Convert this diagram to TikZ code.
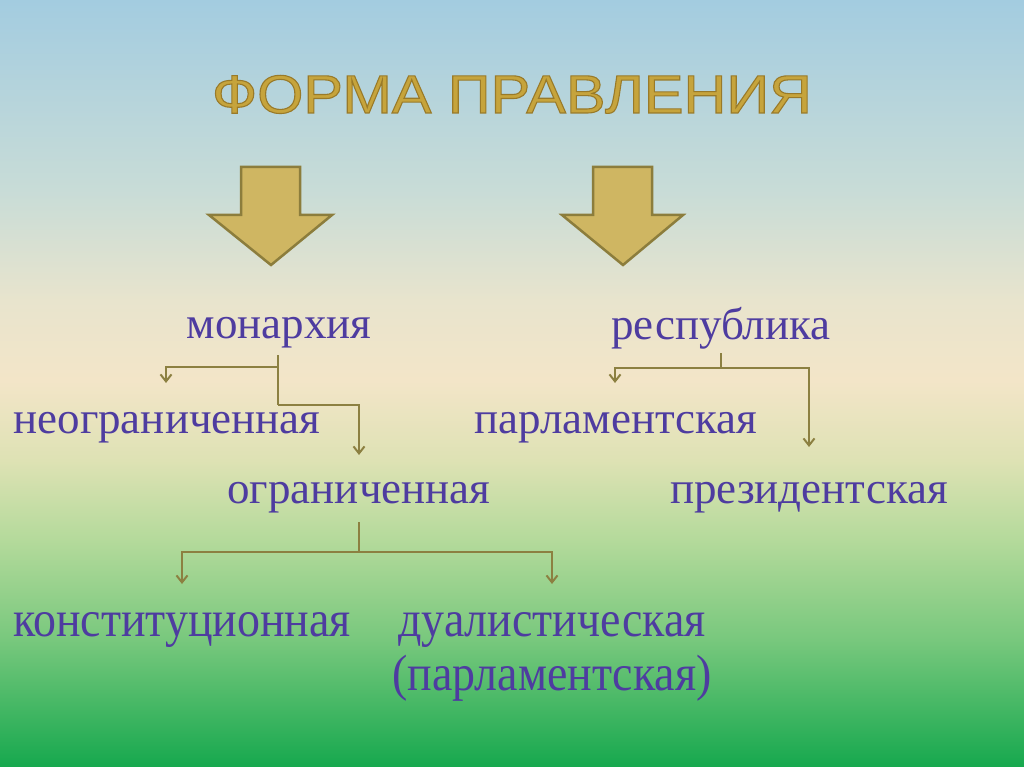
\documentclass[tikz,border=0pt]{standalone}
\usepackage{fontspec}
\setmainfont{Liberation Serif}
\newfontfamily\titlefont[FakeStretch=1.1]{Liberation Sans}
\newfontfamily\condfont[FakeStretch=0.9]{Liberation Serif}
\usetikzlibrary{arrows.meta}
\definecolor{bgA}{RGB}{163,204,224}
\definecolor{bgB}{RGB}{200,220,215}
\definecolor{bgC}{RGB}{232,228,205}
\definecolor{bgD}{RGB}{243,229,200}
\definecolor{bgE}{RGB}{222,226,180}
\definecolor{bgF}{RGB}{180,218,155}
\definecolor{bgG}{RGB}{120,200,125}
\definecolor{bgH}{RGB}{22,168,78}
\definecolor{txt}{RGB}{78,60,160}
\definecolor{gold}{RGB}{198,164,60}
\definecolor{arrfill}{RGB}{207,182,98}
\definecolor{arrline}{RGB}{140,125,60}
\definecolor{conncol}{RGB}{140,128,65}
\pgfdeclareverticalshading{bgshade}{100bp}{%
 color(0bp)=(bgH); color(25bp)=(bgH); color(33.3bp)=(bgG); color(39.8bp)=(bgF);
 color(45bp)=(bgE); color(50.2bp)=(bgD); color(55.4bp)=(bgC); color(62.6bp)=(bgB);
 color(75bp)=(bgA); color(100bp)=(bgA)}
\newcommand{\strokedtext}[1]{\special{pdf:literal direct 0.6 0.48 0.16 RG 1.1 w 2 Tr}#1\special{pdf:literal direct 0 Tr}}
\tikzset{
 label/.style={text=txt, font=\fontsize{45}{50}\selectfont, anchor=base, inner sep=0pt},
 condlabel/.style={text=txt, font=\condfont\fontsize{51}{56}\selectfont, anchor=base, inner sep=0pt},
 conn/.style={draw=conncol, line width=2pt, -{Straight Barb[length=7pt,width=11pt]}},
 connplain/.style={draw=conncol, line width=2pt},
 blockarrow/.style={fill=arrfill, draw=arrline, line width=2.5pt, line join=miter},
 titlestyle/.style={font=\titlefont\fontsize{54}{58}\selectfont, anchor=base, inner sep=0pt, text=gold}
}
\begin{document}
\begin{tikzpicture}[x=1pt,y=-1pt]
\useasboundingbox (0,0) rectangle (1024,767);
\shade[shading=bgshade] (0,0) rectangle (1024,767);
% title
\node[titlestyle] (title) at (512,113) {\strokedtext{ФОРМА ПРАВЛЕНИЯ}};
% block arrows
\draw[blockarrow] (241,167) -- (300,167) -- (300,215) -- (332,215) -- (271,265) -- (209,215) -- (241,215) -- cycle;
\draw[blockarrow] (593,167) -- (652,167) -- (652,215) -- (683,215) -- (623,265) -- (562,215) -- (593,215) -- cycle;
% labels
\node[label] (mon) at (279,338) {монархия};
\node[label] (rep) at (721,339) {республика};
\node[label] (neogr) at (167,433) {неограниченная};
\node[label] (parl) at (616,433) {парламентская};
\node[label] (ogr) at (359,503) {ограниченная};
\node[label] (pres) at (809,503) {президентская};
\node[condlabel] (konst) at (182,636) {конституционная};
\node[condlabel] (dual) at (552,636) {дуалистическая};
\node[condlabel] (dualp) at (552,690) {(парламентская)};
% connector joints
\coordinate (mA) at (278,355);
\coordinate (mB) at (278,367);
\coordinate (mE) at (278,405);
\coordinate (mD) at (166,383);
\coordinate (mF) at (359,455);
\coordinate (rA) at (721,353);
\coordinate (rB) at (721,368);
\coordinate (rD) at (615,383);
\coordinate (rF) at (809,447);
\coordinate (oA) at (359,522);
\coordinate (oB) at (359,552);
\coordinate (oD) at (182,584);
\coordinate (oF) at (552,584);
\draw[connplain] (mA) -- (mE);
\draw[conn] (mB) -| (mD);
\draw[conn] (mE) -| (mF);
\draw[connplain] (rA) -- (rB);
\draw[conn] (rB) -| (rD);
\draw[conn] (rB) -| (rF);
\draw[connplain] (oA) -- (oB);
\draw[conn] (oB) -| (oD);
\draw[conn] (oB) -| (oF);
\end{tikzpicture}
\end{document}
